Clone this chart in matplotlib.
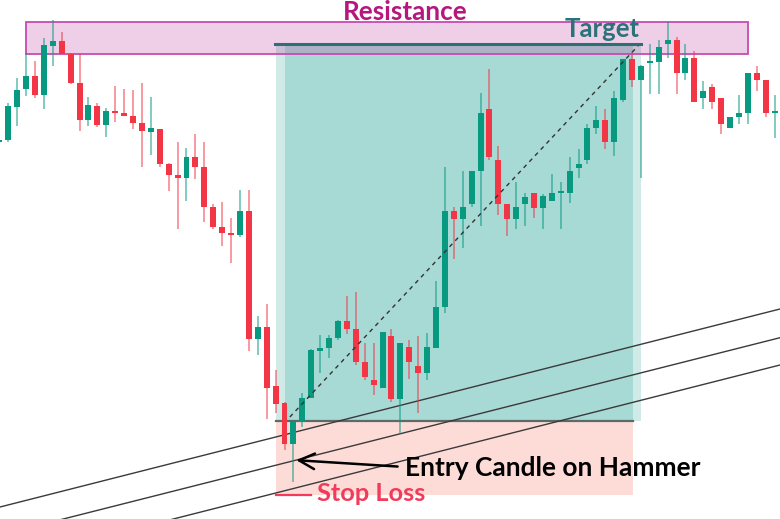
import matplotlib
matplotlib.use('Agg')
import matplotlib.pyplot as plt
import matplotlib.patches as mpatches

# candle levels (screen units, smaller = higher price)
opens = [141.5, 140, 106.7, 89, 75.7, 95, 45.7, 40.7, 54, 83, 120.3, 106, 125, 111.3, 112.7,
         115.7, 123.3, 131.7, 129, 164, 175, 178, 157.3, 166.7, 206.7, 227.3, 232.7, 235, 211,
         339.3, 326.7, 386, 403.3, 444, 422.3, 398.3, 350.7, 348.3, 338.3, 320.7, 329, 362.3,
         380, 388.3, 336, 399.3, 347.3, 365.7, 373.3, 347.7, 306.7, 211, 219, 204, 171, 109.3,
         160, 204, 219, 204, 192.7, 207.7, 200.7, 193, 193.3, 168, 160.3, 127.7, 120, 142, 100,
         59, 80, 62.5, 62.3, 44, 40, 73.3, 58.3, 98.3, 87.3, 98.3, 127.7, 116.7, 113.3, 72.7,
         80, 113]
highs = [140, 103, 77.7, 53, 60.7, 38.3, 20, 32.3, 53, 54, 96.7, 102.7, 108.3, 86, 88.7,
         90, 83, 97.3, 129, 163, 142, 147.7, 134.3, 142.3, 204, 202.3, 217.7, 190, 190,
         316, 304, 370, 401.7, 422, 393.3, 349, 335, 335, 320, 295.7, 292.3, 343.3,
         343.3, 332.3, 329, 343, 340, 336, 332.7, 280.7, 167.3, 207.3, 171, 171, 93.3, 69,
         145.7, 204, 182.3, 192.7, 192.7, 194, 174.3, 182.3, 156.7, 149, 124.3, 105.7, 109.3, 91, 59,
         51.7, 65, 44, 40, 21.7, 36.7, 44, 51, 80.7, 84, 98.3, 116.7, 95, 72.7, 65.7,
         80, 95]
lows = [142, 142, 125.7, 95.7, 97.7, 109, 65.7, 54, 84, 131, 125.7, 127.3, 136.7, 121.7, 116,
        129.3, 167.3, 155.3, 166.7, 191, 229.3, 201, 179.3, 221.7, 229.3, 245.7, 263.3, 237.3, 350.7,
        355, 419, 412.7, 450, 482.3, 426.7, 398.3, 373.3, 357.7, 340, 334, 365, 380,
        395, 388.3, 401.7, 434, 379, 413.3, 380, 347.7, 313.3, 259, 247.7, 207.3, 225.7, 160,
        215, 236, 229, 225.7, 218.3, 229, 200.7, 229, 203.3, 177.7, 163.7, 134.3, 148.7, 156, 101.7,
        86.7, 178, 94.3, 94.3, 57.7, 94.3, 80, 102.3, 109, 109, 134.3, 127.7, 124, 124, 91,
        116.7, 137.7]
closes = [140.5, 106, 90.3, 75.7, 95, 45, 40.7, 54, 83.3, 120.3, 105.3, 125, 111.3, 113.3, 116,
          123.3, 130.7, 128.3, 164, 175, 178, 156.7, 166.7, 207, 227.3, 233.3, 234.3, 211, 339.3,
          326.7, 387.7, 404.3, 443.7, 422.3, 398.3, 350, 347.7, 337.7, 320.7, 329, 362.3, 376.7,
          385, 332.3, 399.3, 343.3, 362.3, 373.3, 347.3, 306.7, 211, 219, 207.3, 171, 112.7, 156.7,
          204, 219, 207.3, 196.7, 207.7, 196, 192.7, 192.5, 171, 163.7, 127.7, 120, 142, 98.3, 59,
          80.3, 65.7, 62, 47.3, 40, 73.3, 58.3, 102.3, 91, 102.3, 124, 116.7, 112.7, 72.7, 80,
          113.3, 112.5]
first_idx = -1

resistance = (21.7, 54.0)     # zone top / bottom
target_level = 43.5
entry_level = 420.7
stop_level = 495.0

green = '#089981'
red = '#f23645'

fig = plt.figure(figsize=(7.8, 5.19), dpi=100)
ax = fig.add_axes([0, 0, 1, 1])
x0, x1 = -0.93, 86.61
ax.set_xlim(x0, x1)
ax.set_ylim(519, 0)
ax.axis('off')

# position tool (target / stop)
ax.add_patch(mpatches.Rectangle((30, target_level), 41, entry_level - target_level,
                                facecolor='#d0eae8', edgecolor='none', zorder=1))
ax.add_patch(mpatches.Rectangle((31, target_level), 39.1, entry_level - target_level,
                                facecolor='#a7d9d5', edgecolor='none', zorder=1))
ax.add_patch(mpatches.Rectangle((30, entry_level), 40.1, stop_level - entry_level,
                                facecolor='#fddcd8', edgecolor='none', zorder=1))
ax.plot([29.9, 71], [target_level, target_level], color='#2e6f73', lw=2.2, zorder=3.5)
ax.plot([30, 70.1], [entry_level, entry_level], color='#5c6b6a', lw=1.6, zorder=2)

# resistance zone
ax.add_patch(mpatches.Rectangle((2.02, resistance[0]), 81.0, resistance[1] - resistance[0],
                                facecolor=(0.75, 0.25, 0.63, 0.25), edgecolor='#c64caf',
                                lw=1.3, zorder=3))

# trendlines
for ya, yb in [(507, 309), (535, 337.7), (563, 365)]:
    ax.plot([x0, x1], [ya, yb], color='#3a3a3a', lw=1.0, zorder=2)

# dashed path entry -> target
ax.plot([31.6, 70.7], [417, 45.7], color='#333333', lw=1.0, ls=(0, (3, 3)), zorder=5)

# candles
xs = list(range(first_idx, first_idx + len(opens)))
for i, o, h, l, c in zip(xs, opens, highs, lows, closes):
    col = green if c <= o else red
    ax.vlines(i, h, l, color=col, alpha=0.55, lw=1.3, zorder=4)
    hgt = c - o
    if abs(hgt) < 1.8:
        hgt = 1.8 if hgt >= 0 else -1.8
    ax.bar(i, hgt, bottom=o, width=0.67, color=col, edgecolor='none', zorder=4)

# labels
ax.text(44.52, 19.5, 'Resistance', color='#b5177f', fontsize=18.8, fontweight='bold',
        family='Lato', ha='center', va='baseline', zorder=6)
ax.text(66.6, 36.7, 'Target', color='#2b7379', fontsize=18.5, fontweight='bold',
        family='Lato', ha='center', va='baseline', zorder=6)
ax.text(44.5, 476, 'Entry Candle on Hammer', color='black', fontsize=18.9, fontweight='bold',
        family='Lato', ha='left', va='baseline', zorder=6)
ax.text(34.65, 500.7, 'Stop Loss', color='#f23b5a', fontsize=18.3, fontweight='bold',
        family='Lato', ha='left', va='baseline', zorder=6)
ax.plot([30, 34.0], [stop_level, stop_level], color='#f23b5a', lw=1.6, zorder=6)

ax.annotate('', xy=(32.0, 460), xytext=(44.0, 466.7),
            arrowprops=dict(arrowstyle='->', lw=1.8, color='black', mutation_scale=28),
            zorder=6)

fig.savefig('out.png', dpi=100)
